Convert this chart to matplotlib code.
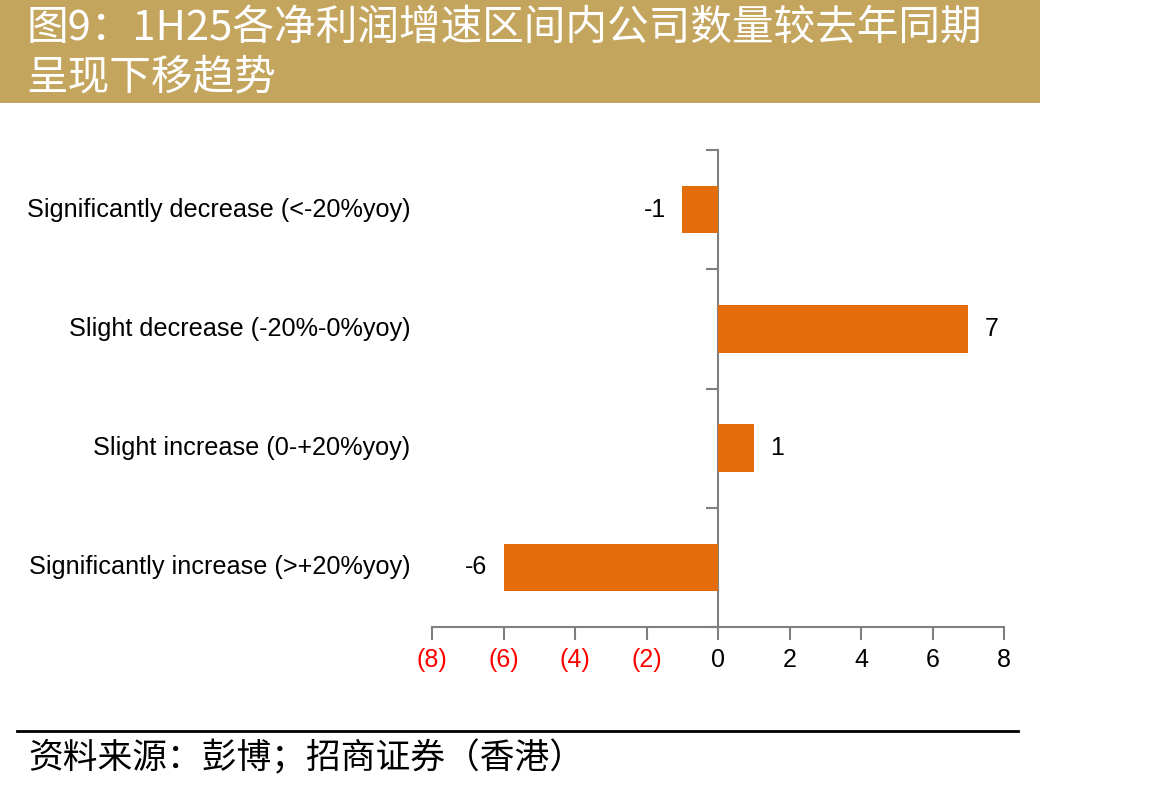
import matplotlib
matplotlib.use("Agg")
import matplotlib.pyplot as plt
from matplotlib.patches import Rectangle
from matplotlib.lines import Line2D
import numpy as np

# Data
categories = [
    "Significantly decrease (<-20%yoy)",
    "Slight decrease (-20%-0%yoy)",
    "Slight increase (0-+20%yoy)",
    "Significantly increase (>+20%yoy)",
]
changes = [-1, 7, 1, -6]
x_ticks = [-8, -6, -4, -2, 0, 2, 4, 6, 8]

title_text = "图9：1H25各净利润增速区间内公司数量较去年同期\n呈现下移趋势"
source_text = "资料来源：彭博；招商证券（香港）"

colors = {
    'bar': '#E46C0A',
    'banner': '#C4A55E',
    'axis': '#808080',
    'neg': '#FF0000',
    'text': '#000000',
}

latin = ['Liberation Sans', 'DejaVu Sans']
cjk = ['Noto Sans CJK SC', 'DejaVu Sans']

W, H = 1172, 791
fig = plt.figure(figsize=(W / 100, H / 100), dpi=100)

# Title banner
fig.patches.append(Rectangle((0, 1 - 103 / H), 1040 / W, 103 / H,
                             transform=fig.transFigure, facecolor=colors['banner'],
                             edgecolor='none', zorder=0))
fig.text(26 / W, 1 - 53 / H, title_text, ha='left', va='center', color='white',
         fontsize=30, family=cjk, linespacing=1.25)

# Plot area
ax = fig.add_axes([432 / W, 1 - 627 / H, 572 / W, 477 / H])
n = len(categories)
ypos = np.arange(n)[::-1]  # top to bottom
ax.barh(ypos, changes, height=0.4, color=colors['bar'], zorder=3)
ax.set_xlim(-8, 8)
ax.set_ylim(-0.5, n - 0.5)

for s in ['top', 'right']:
    ax.spines[s].set_visible(False)
ax.spines['left'].set_position(('data', 0))
for s in ['left', 'bottom']:
    ax.spines[s].set_color(colors['axis'])
    ax.spines[s].set_linewidth(1.5)

ax.set_yticks(np.arange(n + 1) - 0.5)
ax.set_yticklabels([])
ax.tick_params(axis='y', direction='out', length=9, width=1.5, color=colors['axis'])

ax.set_xticks(x_ticks)
ax.set_xticklabels([f"({abs(t)})" if t < 0 else str(t) for t in x_ticks])
ax.tick_params(axis='x', direction='out', length=9, width=1.5, color=colors['axis'], pad=6)
for lbl, t in zip(ax.get_xticklabels(), x_ticks):
    lbl.set_color(colors['neg'] if t < 0 else colors['text'])
    lbl.set_fontsize(18)
    lbl.set_family(latin)

# Category labels
for y, cat in zip(ypos, categories):
    ax.text(-8.6, y, cat, ha='right', va='center', fontsize=18.2, family=latin,
            color=colors['text'], clip_on=False)

# Value labels
for y, v in zip(ypos, changes):
    off = 0.45 if v > 0 else -0.45
    ax.text(v + off, y, str(v), ha='left' if v > 0 else 'right', va='center',
            fontsize=18, family=latin, color=colors['text'])

# Footer
fig.lines.append(Line2D([17 / W, 1018 / W], [1 - 731 / H, 1 - 731 / H],
                        transform=fig.transFigure, color='black', lw=2))
fig.text(28 / W, 1 - 759 / H, source_text, ha='left', va='center', fontsize=25,
         family=cjk, color=colors['text'])

fig.savefig('out.png', dpi=100, facecolor='white')
